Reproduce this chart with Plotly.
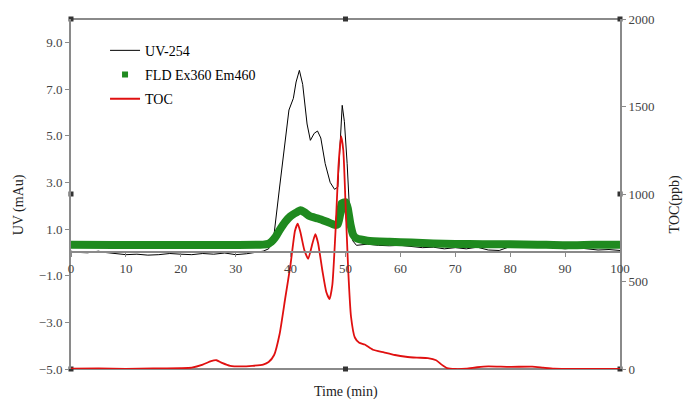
import plotly.graph_objects as go

# ---- data ----
uv_t = [0, 1, 3, 5, 6, 8, 10, 12, 14, 16, 18, 20, 22, 24, 26, 28, 30, 32, 34, 35, 36, 37, 38, 39,
        39.7, 40.5, 41, 41.6, 42.2, 43, 43.6, 44.3, 44.9, 45.5, 46.3, 47.2, 48.0, 48.6, 49.0, 49.4,
        49.8, 50.3, 50.8, 51.3, 52, 54, 56, 58, 60, 62, 64, 66, 68, 70, 72, 74, 76, 78, 80, 82, 84,
        86, 88, 90, 92, 94, 96, 98, 100]
uv_v = [0.05, 0.0, -0.02, 0.05, 0.0, -0.05, -0.1, -0.08, -0.12, -0.1, -0.05, -0.08, -0.1, -0.05,
        -0.08, -0.03, -0.1, -0.06, 0.0, 0.05, 0.15, 0.8, 2.8, 4.8, 6.1, 6.6, 7.3, 7.8, 7.2, 5.5, 4.8,
        5.1, 5.2, 4.9, 3.8, 3.0, 2.7, 2.8, 4.5, 6.3, 5.6, 3.8, 1.5, 0.5, 0.3, 0.35, 0.3, 0.28, 0.3,
        0.25, 0.2, 0.22, 0.15, 0.2, 0.15, 0.22, 0.1, 0.08, 0.25, 0.3, 0.35, 0.25, 0.2, 0.15, 0.2,
        0.15, 0.1, 0.12, 0.08]

fld_t = [0, 35, 36, 36.5, 37, 37.5, 38, 39, 40, 41, 41.8, 42.5, 43.5, 45, 46.5, 48, 48.6, 49.0,
         49.3, 50.0, 50.4, 50.9, 51.4, 52, 54, 58, 62, 66, 70, 75, 80, 85, 90, 95, 100]
fld_v = [0.33, 0.33, 0.37, 0.45, 0.58, 0.75, 0.95, 1.3, 1.55, 1.7, 1.8, 1.72, 1.55, 1.45, 1.32,
         1.18, 1.2, 1.6, 2.1, 2.15, 1.9, 1.2, 0.75, 0.6, 0.5, 0.45, 0.42, 0.38, 0.36, 0.35, 0.35,
         0.33, 0.3, 0.32, 0.33]

toc_t = [0, 5, 10, 15, 20, 22, 24, 25.5, 26.5, 27.5, 29, 31, 33, 35, 36, 37, 38, 39, 40, 40.8,
         41.3, 41.8, 42.5, 43.2, 44.0, 44.5, 45.0, 45.8, 46.5, 47.1, 47.6, 48.2, 48.7, 49.2, 49.6,
         50.0, 50.5, 51.0, 51.7, 52.5, 53.5, 55, 57, 59, 61, 63, 65, 66.5, 67.5, 68.5, 70, 72, 74,
         76, 80, 84, 86, 88, 92, 100]
toc_v = [2, 3, 1, 3, 5, 8, 25, 45, 50, 35, 18, 15, 18, 25, 40, 80, 200, 400, 600, 790, 830, 780,
         680, 630, 720, 770, 720, 560, 440, 400, 480, 800, 1150, 1330, 1250, 950, 560, 300, 180,
         150, 140, 110, 95, 80, 70, 65, 62, 50, 25, 5, 0, 2, 10, 15, 12, 14, 8, 2, 0, 0]

x_ticks = list(range(0, 101, 10))
uv_ticks = [-5, -3, -1, 1, 3, 5, 7, 9]
toc_ticks = [0, 500, 1000, 1500, 2000]
uv_range = [-5, 10]
toc_range = [0, 2000]
x_range = [0, 100]

FONT = "Liberation Serif"
GRAY = "#8a8a8a"

fig = go.Figure()

fig.add_trace(go.Scatter(x=uv_t, y=uv_v, mode="lines", name="UV-254",
                         line=dict(color="black", width=1), legendgroup="a"))
fig.add_trace(go.Scatter(x=fld_t, y=fld_v, mode="lines", name="FLD Ex360 Em460",
                         line=dict(color="#1f8a1f", width=8, shape="spline", smoothing=0.5),
                         showlegend=False))
fig.add_trace(go.Scatter(x=[None], y=[None], mode="markers", name="FLD Ex360 Em460",
                         marker=dict(color="#1f8a1f", symbol="square", size=6), legendgroup="b"))
fig.add_trace(go.Scatter(x=toc_t, y=toc_v, mode="lines", name="TOC", yaxis="y2",
                         line=dict(color="#e01010", width=1.8, shape="spline", smoothing=0.5),
                         legendgroup="c"))

# border midpoint/end markers
mid_x = (x_range[0] + x_range[1]) / 2
mid_y = (uv_range[0] + uv_range[1]) / 2
fig.add_trace(go.Scatter(
    x=[x_range[0], mid_x, x_range[1], x_range[0], mid_x, x_range[1], x_range[0], x_range[1]],
    y=[uv_range[1]] * 3 + [uv_range[0]] * 3 + [mid_y, mid_y],
    mode="markers", marker=dict(color="#333333", symbol="square", size=5),
    showlegend=False, hoverinfo="skip", cliponaxis=False))

fig.update_layout(
    width=683, height=399,
    margin=dict(l=71, r=63, t=14, b=30),
    paper_bgcolor="white", plot_bgcolor="white",
    font=dict(family=FONT, size=13, color="#444444"),
    showlegend=True,
    legend=dict(x=0.062, y=0.955, xanchor="left", yanchor="top", bgcolor="rgba(0,0,0,0)",
                font=dict(family=FONT, size=14, color="black"), tracegroupgap=3,
                itemwidth=30),
    xaxis=dict(range=x_range, tickvals=x_ticks, anchor="free", position=1/3,
               showline=True, linecolor=GRAY, linewidth=1.5, ticks="outside", ticklen=4,
               tickcolor=GRAY, showgrid=False, zeroline=False),
    yaxis=dict(range=uv_range, tickvals=uv_ticks, tickformat=".1f", domain=[0, 1],
               showline=True, linecolor=GRAY, linewidth=2, ticks="outside", ticklen=4,
               tickcolor=GRAY, showgrid=False, zeroline=False),
    yaxis2=dict(range=toc_range, tickvals=toc_ticks, overlaying="y", side="right",
                showline=True, linecolor=GRAY, linewidth=2, ticks="outside", ticklen=4,
                tickcolor=GRAY, showgrid=False, zeroline=False),
    shapes=[
        dict(type="line", xref="paper", yref="paper", x0=0, x1=1, y0=1, y1=1,
             line=dict(color=GRAY, width=2), layer="below"),
        dict(type="line", xref="paper", yref="paper", x0=0, x1=1, y0=0, y1=0,
             line=dict(color=GRAY, width=2), layer="below"),
    ],
    annotations=[
        dict(text="UV (mAu)", xref="paper", yref="paper", x=-0.095, y=0.47, showarrow=False,
             textangle=-90, xanchor="center", yanchor="middle",
             font=dict(family=FONT, size=14, color="#222")),
        dict(text="TOC(ppb)", xref="paper", yref="paper", x=1.1, y=0.47, showarrow=False,
             textangle=-90, xanchor="center", yanchor="middle",
             font=dict(family=FONT, size=14, color="#222")),
        dict(text="Time (min)", xref="paper", yref="paper", x=0.5, y=-0.065, showarrow=False,
             xanchor="center", yanchor="middle",
             font=dict(family=FONT, size=14, color="#222")),
    ],
)

fig.write_html("out.html")
